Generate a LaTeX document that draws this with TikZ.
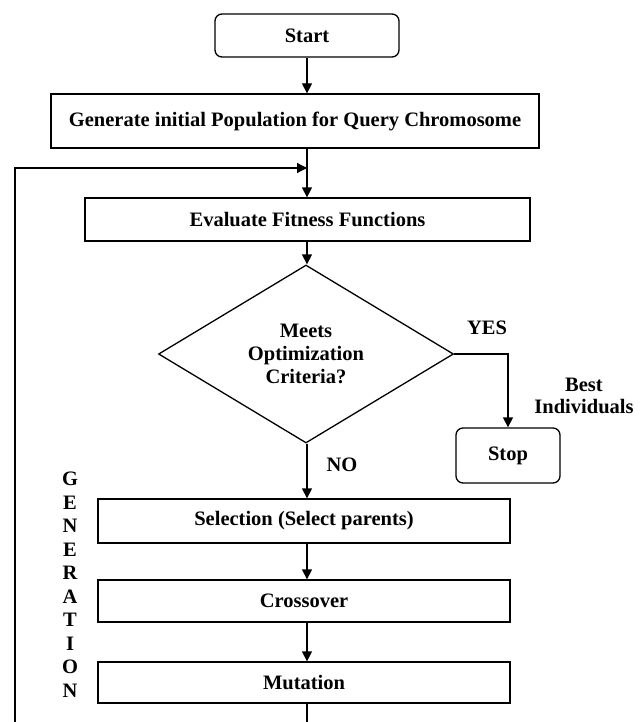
\documentclass[tikz,border=0pt]{standalone}
\usepackage{fontspec}
\setmainfont{Liberation Serif}
\usetikzlibrary{shapes.geometric,arrows.meta,calc}
\begin{document}
\begin{tikzpicture}[x=1pt,y=-1pt,
  every node/.style={font=\fontsize{20.5}{23}\selectfont\bfseries, align=center},
  box/.style={draw, line width=1.3pt, inner sep=0pt},
  rbox/.style={box, rounded corners=7pt},
  dia/.style={draw, line width=1.3pt, diamond, inner sep=0pt, aspect=1.66,
    minimum width=295pt, minimum height=178pt},
  conn/.style={line width=1.3pt},
  arr/.style={conn, -{Triangle[length=10pt,width=10pt]}},
  lbl/.style={inner sep=0pt}
]
\useasboundingbox (0,0) rectangle (644,722);
\node[rbox, minimum width=184pt, minimum height=43pt] (start) at (307,35.5) {Start};
\node[box, minimum width=488pt, minimum height=54pt] (gen) at (295,121) {\raisebox{4pt}{Generate initial Population for Query Chromosome}};
\node[box, minimum width=445pt, minimum height=43pt] (eval) at (307.5,219.5) {Evaluate Fitness Functions};
\node[dia] (dec) at (306,354) {Meets\\Optimization\\Criteria?};
\node[rbox, minimum width=104pt, minimum height=55pt] (stop) at (508,455.5) {Stop};
\node[box, minimum width=412pt, minimum height=44pt] (sel) at (304,521) {Selection (Select parents)};
\node[box, minimum width=412pt, minimum height=42pt] (cross) at (304,601) {Crossover};
\node[box, minimum width=412pt, minimum height=41pt] (mut) at (304,682.5) {Mutation};

\node[lbl] (yes) at (487,328) {YES};
\node[lbl, font=\fontsize{20.5}{22}\selectfont\bfseries] (best) at (584,396) {Best\\Individuals};
\node[lbl] (no) at (342,465) {NO};
\node[lbl, font=\fontsize{20.5}{23.5}\selectfont\bfseries] (genlbl) at (70,584.5) {G\\E\\N\\E\\R\\A\\T\\I\\O\\N};

\coordinate (col) at (307,0);
\coordinate (merge) at (307,168);
\coordinate (loopb) at (15,722);
\coordinate (mutb) at (307,722);

\draw[arr] (start.south) -- (start.south |- gen.north);
\draw[conn] (col |- gen.south) -- (merge);
\draw[arr] (merge) -- (col |- eval.north);
\draw[arr] (loopb) |- (merge);
\draw[arr] (col |- eval.south) -- (col |- dec.north);
\draw[arr] (dec.east) -| (stop.north);
\draw[arr] (col |- dec.south) -- (col |- sel.north);
\draw[arr] (col |- sel.south) -- (col |- cross.north);
\draw[arr] (col |- cross.south) -- (col |- mut.north);
\draw[conn] (col |- mut.south) -- (mutb);
\end{tikzpicture}
\end{document}
